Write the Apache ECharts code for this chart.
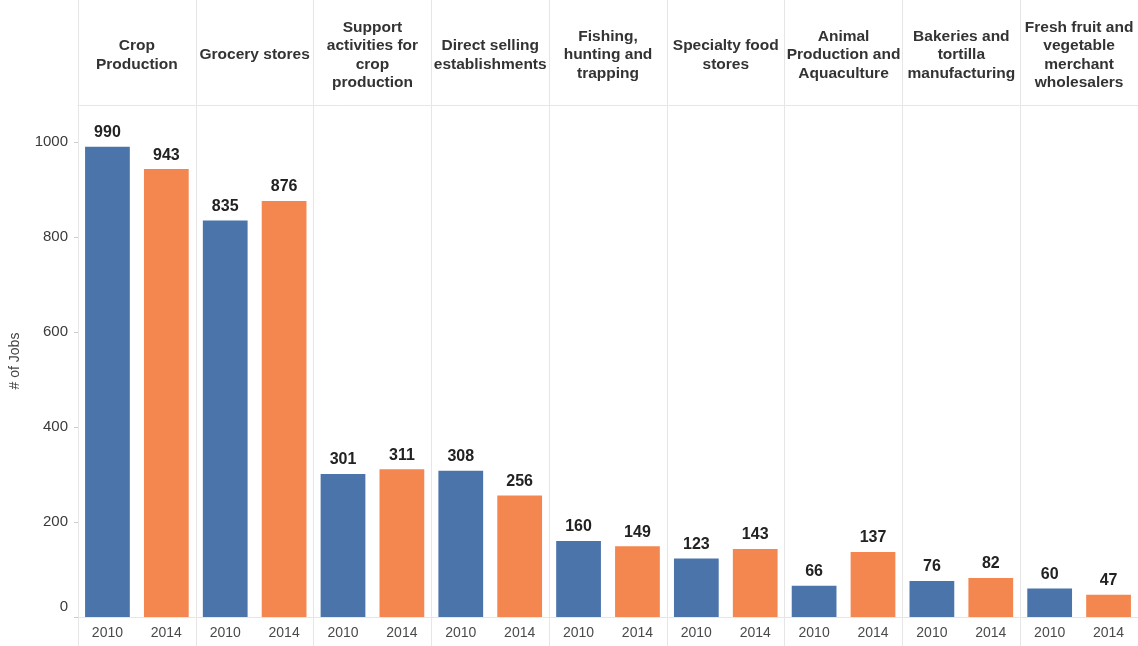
<!DOCTYPE html>
<html>
<head>
<meta charset="utf-8">
<title>Jobs by industry, 2010 vs 2014</title>
<script src="https://cdn.jsdelivr.net/npm/echarts@6/dist/echarts.min.js"></script>
<style>
  html, body { margin: 0; padding: 0; background: #fff; }
  #chart { width: 1138px; height: 646px; }
</style>
</head>
<body>
<div id="chart"></div>
<script>
// data
const industries = [
  'Crop\nProduction',
  'Grocery stores',
  'Support\nactivities for\ncrop\nproduction',
  'Direct selling\nestablishments',
  'Fishing,\nhunting and\ntrapping',
  'Specialty food\nstores',
  'Animal\nProduction and\nAquaculture',
  'Bakeries and\ntortilla\nmanufacturing',
  'Fresh fruit and\nvegetable\nmerchant\nwholesalers'
];
const years = ['2010', '2014'];
const jobs2010 = [990, 835, 301, 308, 160, 123, 66, 76, 60];
const jobs2014 = [943, 876, 311, 256, 149, 143, 137, 82, 47];

const yearColors = ['#4b74aa', '#f3874f'];
const lineColor = '#e6e6e6';
const font = '"Liberation Sans", Arial, sans-serif';

// one bar per industry/year pair
const yearLabels = [];
const barData = [];
industries.forEach((name, i) => {
  [jobs2010[i], jobs2014[i]].forEach((v, k) => {
    yearLabels.push(years[k]);
    barData.push({ value: v, itemStyle: { color: yearColors[k] } });
  });
});

const chart = echarts.init(document.getElementById('chart'));

const option = {
  animation: false,
  textStyle: { fontFamily: font },
  grid: [
    { left: 78, right: 0, top: 0, height: 105 },   // header row
    { left: 78, right: 0, top: 105, bottom: 29 }   // bars
  ],
  xAxis: [
    {
      gridIndex: 0,
      type: 'category',
      position: 'top',
      data: industries,
      axisLine: { show: false },
      axisTick: { show: false },
      splitLine: { show: true, lineStyle: { color: lineColor } },
      axisLabel: {
        interval: 0,
        margin: -55,
        verticalAlign: 'middle',
        align: 'center',
        fontSize: 15.5,
        fontWeight: 'bold',
        lineHeight: 18.5,
        color: '#333'
      }
    },
    {
      gridIndex: 1,
      type: 'category',
      position: 'bottom',
      data: yearLabels,
      axisLine: { show: true, lineStyle: { color: lineColor } },
      axisTick: {
        show: true,
        interval: (i) => i % 2 === 0,
        length: 29,
        lineStyle: { color: lineColor }
      },
      axisLabel: { interval: 0, margin: 9, fontSize: 14, color: '#4a4a4a' }
    },
    {
      gridIndex: 1,
      type: 'category',
      position: 'top',
      data: industries,
      axisLine: { show: true, lineStyle: { color: lineColor } },
      axisTick: { show: false },
      axisLabel: { show: false },
      splitLine: { show: true, lineStyle: { color: lineColor } }
    }
  ],
  yAxis: [
    { gridIndex: 0, type: 'value', show: false },
    {
      gridIndex: 1,
      type: 'value',
      min: 0,
      max: 1078,
      interval: 200,
      name: '# of Jobs',
      nameLocation: 'middle',
      nameGap: 56,
      nameRotate: 90,
      nameTextStyle: { fontSize: 14, color: '#444' },
      axisLine: { show: true, lineStyle: { color: lineColor } },
      axisTick: { show: true, length: 4, lineStyle: { color: '#ccc' } },
      splitLine: { show: false },
      axisLabel: {
        showMaxLabel: false,
        fontSize: 15,
        color: '#3a3a3a',
        margin: 10,
        // the zero label sits a little above the baseline, as in the original
        formatter: (v) => (v === 0 ? '{z|0}' : String(v)),
        rich: { z: { fontSize: 15, color: '#3a3a3a', padding: [0, 0, 20, 0] } }
      }
    }
  ],
  series: [
    {
      type: 'bar',
      xAxisIndex: 1,
      yAxisIndex: 1,
      barWidth: '76%',
      data: barData,
      label: {
        show: true,
        position: 'top',
        distance: 6,
        fontSize: 16,
        fontWeight: 'bold',
        color: '#222'
      }
    }
  ]
};

chart.setOption(option);
</script>
</body>
</html>
